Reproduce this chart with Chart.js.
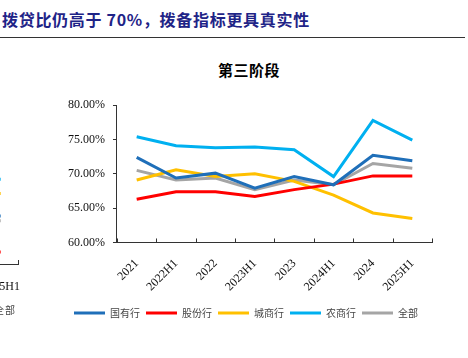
<!DOCTYPE html>
<html>
<head>
<meta charset="utf-8">
<script src="https://cdn.jsdelivr.net/npm/chart.js@4.4.1/dist/chart.umd.min.js"></script>
<style>
  body { margin: 0; width: 468px; height: 358px; background: #fff; position: relative; overflow: hidden; }
  #head { position: absolute; left: 2px; top: 7px; font: bold 16px "Noto Sans CJK SC"; color: #1f2487; white-space: nowrap; letter-spacing: 0.7px; }
  #rule { position: absolute; left: 0; top: 37px; width: 465px; height: 0; border-top: 1.5px solid #333; }
  #title { position: absolute; left: 149px; width: 200px; top: 59px; text-align: center; font: bold 15px "Noto Sans CJK SC"; color: #000; letter-spacing: 0.5px; }
  #mainWrap { position: absolute; left: 20px; top: 90px; width: 448px; height: 246px; }
  #leftWrap { position: absolute; left: 0; top: 90px; width: 25px; height: 250px; overflow: hidden; }
  #leftCanvasBox { position: absolute; left: -122px; top: 0; width: 150px; height: 250px; }
  #leftLegend { position: absolute; left: -6px; top: 302px; font: 10px "Noto Sans CJK SC"; color: #444; letter-spacing: 1px; }
</style>
</head>
<body>
<div id="head">拨贷比仍高于 70%，拨备指标更具真实性</div>
<div id="rule"></div>
<div id="title">第三阶段</div>
<div id="leftWrap"><div id="leftCanvasBox"><canvas id="leftChart" width="150" height="250"></canvas></div></div>
<div id="leftLegend">全部</div>
<div id="mainWrap"><canvas id="mainChart" width="448" height="246"></canvas></div>
<script>
// 第三阶段 拨贷比 (%)
const periods = ['2021', '2022H1', '2022', '2023H1', '2023', '2024H1', '2024', '2025H1'];
const stateBanks = [72.4, 69.4, 70.1, 67.9, 69.6, 68.4, 72.7, 71.9];
const jointStock = [66.3, 67.4, 67.4, 66.7, 67.7, 68.5, 69.7, 69.7];
const cityBanks = [69.1, 70.6, 69.6, 70.0, 68.9, 66.9, 64.3, 63.5];
const ruralBanks = [75.4, 74.1, 73.8, 73.9, 73.5, 69.6, 77.8, 74.9];
const allBanks = [70.5, 69.1, 69.4, 67.7, 69.1, 68.4, 71.5, 70.8];
const yTicks = [60, 65, 70, 75, 80];

// tail of the neighbouring chart (cut off at the left edge)
const prevPeriods = ['2024', '2025H1'];
const prevState = [66.0, 66.0];
const prevJoint = [61.5, 61.5];
const prevCity = [68.8, 68.8];
const prevRural = [70.6, 70.6];
const prevAll = [65.4, 65.4];

const seriesNames = ['国有行', '股份行', '城商行', '农商行', '全部'];
const colors = ['#1f6fb9', '#ff0000', '#ffc000', '#00b0f0', '#a5a5a5'];

function makeSets(lists) {
  return lists.map((d, i) => ({
    label: seriesNames[i],
    data: d,
    borderColor: colors[i],
    backgroundColor: colors[i],
    borderWidth: 3,
    pointRadius: 0,
    tension: 0,
    borderCapStyle: 'butt',
  }));
}

// short x ticks pointing up into the plot, at category boundaries
const innerTicks = {
  id: 'innerTicks',
  afterDatasetsDraw(chart) {
    const s = chart.scales.x;
    const n = s.ticks.length;
    const ctx = chart.ctx;
    ctx.save();
    ctx.strokeStyle = '#333';
    ctx.lineWidth = 1;
    for (let i = 0; i <= n; i++) {
      const x = Math.round(s.left + i * s.width / n) + 0.5;
      ctx.beginPath();
      ctx.moveTo(x, s.top);
      ctx.lineTo(x, s.top - 4);
      ctx.stroke();
    }
    ctx.restore();
  }
};

const tickFont = { family: 'Liberation Serif', size: 12 };

new Chart(document.getElementById('mainChart'), {
  type: 'line',
  data: {
    labels: periods,
    datasets: makeSets([stateBanks, jointStock, cityBanks, ruralBanks, allBanks]),
  },
  options: {
    responsive: false,
    animation: false,
    layout: { padding: { top: 14, left: 40, right: 36, bottom: 8 } },
    scales: {
      x: {
        offset: true,
        grid: { display: false },
        border: { display: true, color: '#333', width: 1 },
        ticks: { color: '#111', font: tickFont, maxRotation: 45, minRotation: 45, autoSkip: false, padding: 6 },
        afterFit(scale) { scale.height += 2; },
      },
      y: {
        min: 60,
        max: 80,
        afterBuildTicks(scale) { scale.ticks = yTicks.map(v => ({ value: v })); },
        grid: { drawOnChartArea: false, drawTicks: true, tickLength: 4, color: '#333' },
        border: { display: true, color: '#333', width: 1 },
        ticks: { color: '#111', font: tickFont, padding: 8, callback: v => v.toFixed(2) + '%' },
      },
    },
    plugins: {
      legend: {
        position: 'bottom',
        labels: {
          boxWidth: 31, boxHeight: 3, padding: 6, color: '#444',
          font: { family: 'Noto Sans CJK SC', size: 10 },
          generateLabels(chart) {
            return Chart.defaults.plugins.legend.labels.generateLabels(chart).map(l => ({ ...l, lineWidth: 0 }));
          },
        },
      },
      tooltip: { enabled: false },
    },
  },
  plugins: [innerTicks],
});

new Chart(document.getElementById('leftChart'), {
  type: 'line',
  data: {
    labels: prevPeriods,
    datasets: makeSets([prevState, prevJoint, prevCity, prevRural, prevAll]),
  },
  options: {
    responsive: false,
    animation: false,
    layout: { padding: { top: 14, left: 70, right: 0, bottom: 0 } },
    scales: {
      x: {
        offset: true,
        grid: { display: false },
        border: { display: true, color: '#333', width: 1 },
        ticks: { color: '#111', font: tickFont, maxRotation: 0, minRotation: 0, autoSkip: false, padding: 8 },
        afterFit(scale) { scale.height = 76; },
      },
      y: { display: false, min: 60, max: 80 },
    },
    plugins: { legend: { display: false }, tooltip: { enabled: false } },
  },
  plugins: [innerTicks],
});
</script>
</body>
</html>
